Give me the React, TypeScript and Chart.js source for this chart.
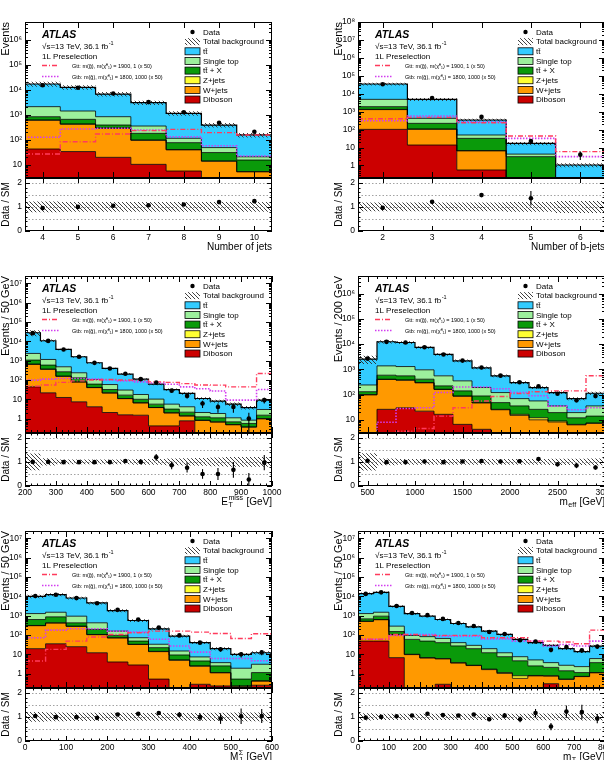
import React, { useEffect, useRef } from 'react';
import { Chart, registerables } from 'chart.js';

Chart.register(...registerables);

const FONT = '"Liberation Sans", Arial, Helvetica, sans-serif';

// ===== Series names / colours (stack order: bottom -> top) =====
const SERIES_LABELS = ['Diboson', 'W+jets', 'Z+jets', 'tt\u0304 + X', 'Single top', 'tt\u0304'];
const SERIES_COLORS = ['#cc0000', '#ff9900', '#ffff33', '#0a9a0a', '#9cf09c', '#33ccff'];
const GTT_LABEL = 'Gtt: m(g\u0303), m(\u03c7\u0303\u2070\u2081) = 1900, 1 (x 50)';
const GTB_LABEL = 'Gtb: m(g\u0303), m(\u03c7\u0303\u2070\u2081) = 1800, 1000 (x 50)';
const GTT_COLOR = '#ff3b5c';
const GTB_COLOR = '#d23cf0';

// ===== (a) Number of jets =====
const jetBins = [4, 5, 6, 7, 8, 9, 10];
const jetDiboson = [43, 34, 20, 10.5, 5.7, 2, 1];
const jetWjets = [560, 385, 270, 85, 34, 12, 4.3];
const jetZjets = [14, 8, 6, 2.5, 1.3, 0.3, 0.1];
const jetTtX = [218, 229, 93, 83, 36, 16.7, 10.2];
const jetSingleTop = [1265, 754, 447, 174, 38, 18, 5.4];
const jetTtbar = [14700, 11000, 5860, 2675, 1025, 340, 135];
const jetData = [15000, 12000, 7000, 3200, 1250, 482, 211];
const jetGtt = [27, 84, 170, 232, 261, 193, 156];
const jetGtb = [126, 270, 290, 245, 133, 58, 22.6];
const jetRatio = [0.95, 1.0, 1.05, 1.07, 1.1, 1.2, 1.24];
const jetRatioErr = [0.01, 0.01, 0.015, 0.02, 0.03, 0.055, 0.085];
const jetSyst = [0.22, 0.2, 0.2, 0.2, 0.2, 0.2, 0.2];

// ===== (b) Number of b-jets =====
const bjetBins = [2, 3, 4, 5, 6];
const bjetDiboson = [103, 13.8, 0.56, 0.01, 0.001];
const bjetWjets = [1200, 90, 6, 0.15, 0.01];
const bjetZjets = [47, 4.2, 0.14, 0.01, 0.001];
const bjetTtX = [550, 115, 25.8, 2.93, 0.12];
const bjetSingleTop = [2960, 202, 17.5, 1.2, 0.03];
const bjetTtbar = [29940, 4435, 292, 12.7, 0.9];
const bjetData = [34000, 5800, 510, 23, 4];
const bjetGtt = [400, 480, 240, 44, 5.9];
const bjetGtb = [310, 570, 260, 32.5, 3.1];
const bjetRatio = [0.96, 1.21, 1.49, 1.36, null];
const bjetRatioErr = [0.01, 0.02, 0.07, 0.3, 0];
const bjetSyst = [0.18, 0.18, 0.18, 0.2, 0.25];

// ===== (c) E_T^miss =====
const metBins = [225, 275, 325, 375, 425, 475, 525, 575, 625, 675, 725, 775, 825, 875, 925, 975];
const metDiboson = [44, 21.6, 12.4, 7.4, 4.1, 2.07, 1.57, 1.5, 0.42, 0.42, 0.77, 0.001, 0.001, 0.001, 0.001, 0.001];
const metWjets = [600, 333, 141, 70.5, 36, 19, 9.2, 5, 3.3, 1.55, 0.6, 0.8, 0.66, 0.48, 0.36, 0.97];
const metZjets = [16, 9.4, 4.6, 2.1, 0.9, 0.5, 0.23, 0.1, 0.04, 0.03, 0.02, 0.03, 0.02, 0.01, 0.01, 0.03];
const metTtX = [406, 224, 107, 49, 20, 10.4, 5.4, 3.4, 1.84, 1.1, 0.76, 0.41, 0.42, 0.19, 0.19, 0.5];
const metSingleTop = [1294, 562, 216, 106, 45, 26, 13.6, 7.7, 4.6, 2.5, 1.95, 0.83, 0.74, 0.42, 0.27, 1.47];
const metTtbar = [25440, 9550, 3319, 1350, 670, 336, 170, 92, 51, 26.4, 15.9, 8.9, 6.2, 4.5, 2.9, 6.0];
const metData = [26500, 10500, 3750, 1580, 770, 390, 210, 110, 73, 28, 15, 6, 4, 4, 1, 9];
const metGtt = [48, 55, 75, 90, 100, 105, 100, 95, 80, 75, 65, 55, 54, 44, 44, 217];
const metGtb = [98, 110, 120, 120, 110, 100, 90, 80, 70, 60, 44, 35, 27, 9, 9, 32];
const metRatio = [1.0, 1.0, 0.99, 0.99, 0.99, 0.99, 1.04, 1.0, 1.19, 0.86, 0.76, 0.5, 0.5, 0.67, 0.27, 0.97];
const metRatioErr = [0.01, 0.01, 0.016, 0.025, 0.036, 0.05, 0.07, 0.095, 0.14, 0.16, 0.2, 0.2, 0.25, 0.33, 0.27, 0.32];
const metSyst = [0.35, 0.15, 0.1, 0.1, 0.1, 0.1, 0.1, 0.12, 0.12, 0.14, 0.15, 0.16, 0.18, 0.2, 0.2, 0.2];

// ===== (d) m_eff =====
const meffBins = [500, 700, 900, 1100, 1300, 1500, 1700, 1900, 2100, 2300, 2500, 2700, 2900];
const meffDiboson = [0.01, 26, 30, 22, 16.5, 6.6, 4.2, 1, 0.5, 0.3, 0.2, 0.1, 0.2];
const meffWjets = [97, 370, 340, 270, 142, 79, 42.5, 24, 14.5, 9.7, 8, 6.2, 7];
const meffZjets = [3, 11, 10, 8, 4.5, 2.4, 1.3, 1, 1.5, 2, 0.8, 0.3, 0.3];
const meffTtX = [30, 179, 172, 107, 58, 52, 40, 22, 19, 14, 10.3, 5.4, 6.5];
const meffSingleTop = [110, 784, 738, 548, 331, 209, 102, 72, 33.5, 30, 16.2, 7.3, 21.5];
const meffTtbar = [2300, 11030, 10310, 6425, 3338, 1831, 958, 432, 231, 134, 84.5, 49.7, 77.5];
const meffData = [2670, 12300, 11500, 7530, 3850, 2220, 1190, 563, 309, 213, 108, 59, 87];
const meffGtt = [2.5, 3, 3.5, 4.5, 14, 30, 56, 84, 110, 130, 140, 140, 560];
const meffGtb = [3, 8, 28, 30, 120, 200, 200, 170, 120, 90, 35, 25, 30];
const meffRatio = [1.05, 0.99, 0.99, 1.02, 0.99, 1.02, 1.04, 1.02, 1.03, 1.12, 0.9, 0.85, 0.77];
const meffRatioErr = [0.02, 0.01, 0.01, 0.012, 0.016, 0.022, 0.03, 0.043, 0.06, 0.08, 0.09, 0.11, 0.09];
const meffSyst = [0.36, 0.14, 0.12, 0.12, 0.12, 0.12, 0.12, 0.12, 0.12, 0.12, 0.13, 0.13, 0.14];

// ===== (e) M_J^Sigma =====
const mjBins = [25, 75, 125, 175, 225, 275, 325, 375, 425, 475, 525, 575];
const mjDiboson = [19.5, 35, 24.7, 12, 4, 2.8, 0.52, 0.01, 0.28, 0.23, 0.01, 0.25];
const mjWjets = [282, 379, 254, 91, 66, 29.3, 13.2, 4.9, 2.15, 0.87, 0.21, 0.16];
const mjZjets = [8.5, 11, 7.3, 3, 2, 0.9, 0.5, 0.2, 0.07, 0.03, 0.01, 0.01];
const mjTtX = [320, 440, 139, 87, 23, 15, 7.8, 4.1, 2, 1.37, 0.29, 0.71];
const mjSingleTop = [650, 635, 512, 232, 63, 24, 11, 5.6, 2.8, 1.2, 1.38, 1.92];
const mjTtbar = [8720, 10700, 7263, 4115, 1672, 488, 175, 72.7, 32.7, 15.8, 8.1, 8.95];
const mjData = [10400, 12100, 8100, 4360, 2010, 633, 241, 95, 40, 18, 10, 12.5];
const mjGtt = [4.5, 18, 48, 78, 106, 130, 158, 158, 140, 120, 66, 115];
const mjGtb = [72, 178, 208, 208, 158, 140, 60, 27, 13, 6, 6, 4.6];
const mjRatio = [1.04, 0.99, 0.99, 0.96, 1.1, 1.13, 1.16, 1.09, 0.99, 0.93, 1.03, 1.04];
const mjRatioErr = [0.01, 0.01, 0.011, 0.015, 0.025, 0.045, 0.075, 0.11, 0.16, 0.22, 0.32, 0.29];
const mjSyst = [0.2, 0.18, 0.17, 0.17, 0.17, 0.16, 0.16, 0.16, 0.16, 0.17, 0.18, 0.18];

// ===== (f) m_T =====
const mtBins = [25, 75, 125, 175, 225, 275, 325, 375, 425, 475, 525, 575, 625, 675, 725, 775];
const mtDiboson = [48, 48, 6.7, 0.01, 0.01, 0.28, 0.01, 0.01, 0.01, 0.01, 0.01, 0.01, 0.3, 0.01, 0.01, 0.01];
const mtWjets = [455, 565, 96, 9.6, 6.4, 5.5, 3.5, 2.6, 1.6, 1.02, 0.56, 0.75, 0.45, 0.49, 0.69, 1.09];
const mtZjets = [14, 17, 3.3, 0.4, 0.3, 0.2, 0.2, 0.1, 0.1, 0.1, 0.2, 0.04, 0.02, 0.02, 0.02, 0.03];
const mtTtX = [165, 307, 44, 49, 41.3, 34, 23.3, 16.8, 10.3, 6.37, 3.83, 1.7, 1.33, 0.88, 0.41, 2.57];
const mtSingleTop = [598, 563, 136, 35, 34, 26, 13, 9.5, 7.5, 4.5, 2.9, 2.6, 1.6, 1.3, 1.17, 2.3];
const mtTtbar = [12420, 14500, 2764, 1186, 855, 564, 353, 235, 138.5, 94, 51.5, 34.9, 25.3, 16.8, 11.3, 20.7];
const mtData = [13300, 16000, 3140, 1360, 1060, 680, 417, 290, 142, 112, 53, 46, 17, 24, 16, 25];
const mtGtt = [60, 60, 106, 106, 95, 95, 95, 95, 72, 72, 72, 48, 48, 43, 35, 178];
const mtGtb = [60, 60, 95, 106, 106, 87, 87, 87, 63, 63, 48, 48, 27, 32, 27, 48];
const mtRatio = [0.97, 1.0, 1.03, 1.06, 1.13, 1.08, 1.06, 1.1, 0.9, 1.06, 0.9, 1.16, 0.6, 1.22, 1.2, 0.93];
const mtRatioErr = [0.01, 0.01, 0.02, 0.03, 0.035, 0.04, 0.05, 0.065, 0.075, 0.1, 0.12, 0.17, 0.15, 0.25, 0.3, 0.19];
const mtSyst = [0.15, 0.13, 0.13, 0.13, 0.13, 0.13, 0.13, 0.13, 0.13, 0.13, 0.13, 0.14, 0.14, 0.14, 0.15, 0.15];

// ===== panels =====
const PANELS: any[] = [
  { col: 0, row: 0, centers: jetBins, width: 1, xMin: 3.5, xMax: 10.5, xMajor: 1, xMinor: 0, yMin: 3, yMax: 5e6,
    comps: [jetDiboson, jetWjets, jetZjets, jetTtX, jetSingleTop, jetTtbar], data: jetData, gtt: jetGtt, gtb: jetGtb,
    ratio: jetRatio, ratioErr: jetRatioErr, syst: jetSyst, yTitle: 'Events', xTitle: [{ t: 'Number of jets' }] },
  { col: 1, row: 0, centers: bjetBins, width: 1, xMin: 1.5, xMax: 6.5, xMajor: 1, xMinor: 0, yMin: 0.2, yMax: 1e8,
    comps: [bjetDiboson, bjetWjets, bjetZjets, bjetTtX, bjetSingleTop, bjetTtbar], data: bjetData, gtt: bjetGtt, gtb: bjetGtb,
    ratio: bjetRatio, ratioErr: bjetRatioErr, syst: bjetSyst, yTitle: 'Events', xTitle: [{ t: 'Number of b-jets' }] },
  { col: 0, row: 1, centers: metBins, width: 50, xMin: 200, xMax: 1000, xMajor: 100, xMinor: 20, yMin: 0.18, yMax: 2.4e7,
    comps: [metDiboson, metWjets, metZjets, metTtX, metSingleTop, metTtbar], data: metData, gtt: metGtt, gtb: metGtb,
    ratio: metRatio, ratioErr: metRatioErr, syst: metSyst, yTitle: 'Events / 50 GeV',
    xTitle: [{ t: 'E' }, { sup: 'miss', sub: 'T' }, { t: ' [GeV]' }] },
  { col: 1, row: 1, centers: meffBins, width: 200, xMin: 400, xMax: 3000, xMajor: 500, xMinor: 100, yMin: 3, yMax: 5e6,
    comps: [meffDiboson, meffWjets, meffZjets, meffTtX, meffSingleTop, meffTtbar], data: meffData, gtt: meffGtt, gtb: meffGtb,
    ratio: meffRatio, ratioErr: meffRatioErr, syst: meffSyst, yTitle: 'Events / 200 GeV',
    xTitle: [{ t: 'm' }, { sub: 'eff' }, { t: ' [GeV]' }] },
  { col: 0, row: 2, centers: mjBins, width: 50, xMin: 0, xMax: 600, xMajor: 100, xMinor: 20, yMin: 0.18, yMax: 2.4e7,
    comps: [mjDiboson, mjWjets, mjZjets, mjTtX, mjSingleTop, mjTtbar], data: mjData, gtt: mjGtt, gtb: mjGtb,
    ratio: mjRatio, ratioErr: mjRatioErr, syst: mjSyst, yTitle: 'Events / 50 GeV',
    xTitle: [{ t: 'M' }, { sup: '\u03a3', sub: 'J' }, { t: ' [GeV]' }] },
  { col: 1, row: 2, centers: mtBins, width: 50, xMin: 0, xMax: 800, xMajor: 100, xMinor: 20, yMin: 0.18, yMax: 2.4e7,
    comps: [mtDiboson, mtWjets, mtZjets, mtTtX, mtSingleTop, mtTtbar], data: mtData, gtt: mtGtt, gtb: mtGtb,
    ratio: mtRatio, ratioErr: mtRatioErr, syst: mtSyst, yTitle: 'Events / 50 GeV',
    xTitle: [{ t: 'm' }, { sub: 'T' }, { t: ' [GeV]' }] },
];

// ===== layout =====
const COLS = [
  { cellX: 0, left: 25, right: 272, padR: 14 },
  { cellX: 300, left: 358, right: 605, padR: 14 },
];
const ROWS = [
  { top: 22, split: 178, bottom: 231 },
  { top: 276, split: 433, bottom: 486 },
  { top: 531, split: 688, bottom: 741 },
];
const YW = 20, PT = 12, PB = 6, RT = 6, XH = 26;

function geom(p: any) {
  const c = COLS[p.col], r = ROWS[p.row];
  const w = c.right + c.padR - c.cellX;
  return {
    mx: c.cellX, my: r.top - PT, mw: w, mh: r.split - r.top + PT + PB,
    rx: c.cellX, ry: r.split - RT, rw: w, rh: r.bottom - r.split + RT + XH,
    padL: c.left - c.cellX - YW, padR: c.padR,
  };
}

// ===== helpers =====
let HATCH: any = '#888';
function makeHatch() {
  const c = document.createElement('canvas');
  c.width = 4; c.height = 4;
  const g = c.getContext('2d')!;
  g.strokeStyle = '#2a2a2a'; g.lineWidth = 0.9;
  g.beginPath();
  g.moveTo(-1, -1); g.lineTo(5, 5);
  g.moveTo(-1, 3); g.lineTo(1, 5);
  g.moveTo(3, -1); g.lineTo(5, 1);
  g.stroke();
  return g.createPattern(c, 'repeat');
}

function cumulate(comps: number[][]) {
  const out: number[][] = [];
  let run = comps[0].map(() => 0);
  comps.forEach((c) => { run = run.map((v, i) => v + c[i]); out.push(run); });
  return out;
}
function steps(centers: number[], width: number, vals: number[]) {
  const pts = centers.map((c, i) => ({ x: c - width / 2, y: vals[i] }));
  pts.push({ x: centers[centers.length - 1] + width / 2, y: vals[vals.length - 1] });
  return pts;
}
function linTicks(min: number, max: number, step: number) {
  const out: number[] = [];
  if (!step) return out;
  const s = Math.ceil(min / step - 1e-9) * step;
  for (let v = s; v <= max + 1e-9; v += step) out.push(+v.toFixed(6));
  return out;
}
function decadeTicks(min: number, max: number) {
  const out: number[] = [];
  for (let e = Math.ceil(Math.log10(min) - 1e-9); e <= Math.floor(Math.log10(max) + 1e-9); e++) out.push(Math.pow(10, e));
  return out;
}
function logMinor(min: number, max: number) {
  const out: number[] = [];
  for (let e = Math.floor(Math.log10(min)); e <= Math.ceil(Math.log10(max)); e++)
    for (let m = 2; m <= 9; m++) { const v = m * Math.pow(10, e); if (v > min && v < max) out.push(v); }
  return out;
}
const SUP = '\u2070\u00b9\u00b2\u00b3\u2074\u2075\u2076\u2077\u2078\u2079';
function powLabel(v: number) {
  const e = Math.round(Math.log10(v));
  if (e === 0) return '1';
  if (e === 1) return '10';
  return '10' + String(e).split('').map((d) => SUP[+d]).join('');
}
const fnt = (size: number, style = '') => `${style} ${size}px ${FONT}`.trim();

function drawRich(ctx: any, parts: any[], x: number, y: number, size: number, align: string) {
  const small = size * 0.72;
  const widthOf = (pt: any) => {
    if (pt.t !== undefined) { ctx.font = fnt(size); return ctx.measureText(pt.t).width; }
    ctx.font = fnt(small);
    return Math.max(pt.sub ? ctx.measureText(pt.sub).width : 0, pt.sup ? ctx.measureText(pt.sup).width : 0) + 1;
  };
  const total = parts.reduce((w, pt) => w + widthOf(pt), 0);
  let cx = align === 'right' ? x - total : x;
  ctx.textAlign = 'left'; ctx.textBaseline = 'alphabetic';
  parts.forEach((pt) => {
    const w = widthOf(pt);
    if (pt.t !== undefined) { ctx.font = fnt(size); ctx.fillText(pt.t, cx, y); }
    else {
      ctx.font = fnt(small);
      if (pt.sup) ctx.fillText(pt.sup, cx + 0.5, y - size * 0.42);
      if (pt.sub) ctx.fillText(pt.sub, cx + 0.5, y + size * 0.28);
    }
    cx += w;
  });
}

function decorPlugin(s: any) {
  return {
    id: 'atlasDecor',
    beforeDatasetsDraw(chart: any) {
      if (!s.refLines) return;
      const { ctx, chartArea: a } = chart; const ys = chart.scales.y;
      ctx.save(); ctx.strokeStyle = '#8a8a8a'; ctx.lineWidth = 0.8; ctx.setLineDash([1.5, 2]);
      s.refLines.forEach((v: number) => {
        const y = Math.round(ys.getPixelForValue(v)) + 0.5;
        ctx.beginPath(); ctx.moveTo(a.left, y); ctx.lineTo(a.right, y); ctx.stroke();
      });
      ctx.restore();
    },
    afterDatasetsDraw(chart: any) {
      const { ctx, chartArea: a } = chart; const xs = chart.scales.x, ys = chart.scales.y;
      ctx.save();
      // error bars
      ctx.save();
      ctx.beginPath(); ctx.rect(a.left, a.top, a.right - a.left, a.bottom - a.top); ctx.clip();
      chart.data.datasets.forEach((ds: any) => {
        if (!ds.errLo) return;
        ctx.strokeStyle = '#000'; ctx.lineWidth = 1.1;
        ds.data.forEach((pt: any, i: number) => {
          if (pt.y == null || !ds.errLo[i]) return;
          const x = xs.getPixelForValue(pt.x);
          const lo = pt.y - ds.errLo[i];
          const y1 = lo > 0 ? ys.getPixelForValue(lo) : a.bottom + 5;
          const y2 = ys.getPixelForValue(pt.y + ds.errHi[i]);
          ctx.beginPath(); ctx.moveTo(x, y1); ctx.lineTo(x, y2); ctx.stroke();
        });
      });
      ctx.restore();
      // frame + inward ticks
      ctx.strokeStyle = '#000'; ctx.lineWidth = 1; ctx.setLineDash([]);
      ctx.strokeRect(a.left + 0.5, a.top + 0.5, a.right - a.left - 1, a.bottom - a.top - 1);
      ctx.beginPath();
      const vx = (v: number, L: number) => {
        const x = Math.round(xs.getPixelForValue(v)) + 0.5;
        ctx.moveTo(x, a.bottom); ctx.lineTo(x, a.bottom - L); ctx.moveTo(x, a.top); ctx.lineTo(x, a.top + L);
      };
      const vy = (v: number, L: number) => {
        const y = Math.round(ys.getPixelForValue(v)) + 0.5;
        ctx.moveTo(a.left, y); ctx.lineTo(a.left + L, y); ctx.moveTo(a.right, y); ctx.lineTo(a.right - L, y);
      };
      s.xMaj.forEach((v: number) => vx(v, s.majL));
      s.xMin.forEach((v: number) => vx(v, s.minL));
      s.yMaj.forEach((v: number) => vy(v, s.majL));
      s.yMin.forEach((v: number) => vy(v, s.minL));
      ctx.stroke();
      ctx.fillStyle = '#000';
      // y title
      ctx.save();
      ctx.translate(a.left - 16.5, s.yTitleCenter ? (a.top + a.bottom) / 2 : a.top);
      ctx.rotate(-Math.PI / 2);
      ctx.font = fnt(s.yTitleSize);
      ctx.textAlign = s.yTitleCenter ? 'center' : 'right'; ctx.textBaseline = 'alphabetic';
      ctx.fillText(s.yTitle, 0, 0);
      ctx.restore();
      // x title
      if (s.xTitle) drawRich(ctx, s.xTitle, a.right, a.bottom + 18.5, 10, 'right');
      if (s.header) {
        const L = a.left, T = a.top;
        ctx.textAlign = 'left'; ctx.textBaseline = 'alphabetic';
        ctx.font = fnt(10.5, 'italic bold'); ctx.fillText('ATLAS', L + 17, T + 15.5);
        ctx.font = fnt(8); ctx.fillText('\u221as=13 TeV, 36.1 fb', L + 17, T + 26.5);
        const w = ctx.measureText('\u221as=13 TeV, 36.1 fb').width;
        ctx.font = fnt(5.5); ctx.fillText('-1', L + 17 + w + 0.5, T + 23);
        ctx.font = fnt(8); ctx.fillText('1L Preselection', L + 17, T + 37);
        ctx.lineWidth = 1.3;
        ctx.strokeStyle = GTT_COLOR; ctx.setLineDash([5, 2, 1, 2]);
        ctx.beginPath(); ctx.moveTo(L + 17, T + 43.5); ctx.lineTo(L + 34, T + 43.5); ctx.stroke();
        ctx.strokeStyle = GTB_COLOR; ctx.setLineDash([1.5, 1.5]);
        ctx.beginPath(); ctx.moveTo(L + 17, T + 54.5); ctx.lineTo(L + 34, T + 54.5); ctx.stroke();
        ctx.setLineDash([]);
        ctx.font = fnt(5.5);
        ctx.fillText(GTT_LABEL, L + 47, T + 45.5);
        ctx.fillText(GTB_LABEL, L + 47, T + 56.5);
        // legend
        const R = a.right;
        const rowY = (k: number) => T + 10 + 9.65 * k;
        const labels = ['Data', 'Total background'];
        for (let k = SERIES_LABELS.length - 1; k >= 0; k--) labels.push(SERIES_LABELS[k]);
        ctx.beginPath(); ctx.arc(R - 79.5, rowY(0), 2.2, 0, Math.PI * 2); ctx.fill();
        ctx.fillStyle = HATCH; ctx.fillRect(R - 87, rowY(1) - 3.5, 15, 7);
        ctx.lineWidth = 0.8; ctx.strokeStyle = '#000';
        for (let k = 0; k < SERIES_COLORS.length; k++) {
          const idx = SERIES_COLORS.length - 1 - k;
          const y = rowY(2 + k);
          ctx.fillStyle = SERIES_COLORS[idx]; ctx.fillRect(R - 87, y - 3.5, 15, 7);
          ctx.strokeRect(R - 87, y - 3.5, 15, 7);
        }
        ctx.fillStyle = '#000'; ctx.font = fnt(8); ctx.textBaseline = 'middle';
        labels.forEach((t, k) => ctx.fillText(t, R - 69, rowY(k) + 0.5));
      }
      ctx.restore();
    },
  };
}

const tickFont = { family: FONT, size: 8.5 };

function mainConfig(p: any, g: any) {
  const cum = cumulate(p.comps);
  const total = cum[cum.length - 1];
  const FLOOR = 1e-4;
  const ds: any[] = [];
  cum.forEach((vals, k) => ds.push({
    type: 'line', label: SERIES_LABELS[k],
    data: steps(p.centers, p.width, vals.map((v) => Math.max(v, FLOOR))),
    stepped: true, borderColor: '#000', borderWidth: k === cum.length - 1 ? 1.2 : 0.8,
    backgroundColor: SERIES_COLORS[k], fill: k === 0 ? 'start' : '-1', pointRadius: 0, order: 20 - k,
  }));
  ds.push({ type: 'line', label: 'bandLo', data: steps(p.centers, p.width, total.map((t, i) => t * (1 - p.syst[i]))),
    stepped: true, borderWidth: 0, pointRadius: 0, fill: false, order: 5 });
  ds.push({ type: 'line', label: 'Total background', data: steps(p.centers, p.width, total.map((t, i) => t * (1 + p.syst[i]))),
    stepped: true, borderWidth: 0, pointRadius: 0, backgroundColor: HATCH, fill: '-1', order: 5 });
  ds.push({ type: 'line', label: 'Gtt', data: steps(p.centers, p.width, p.gtt), stepped: true, borderColor: GTT_COLOR,
    borderWidth: 1.4, borderDash: [5, 2, 1, 2], pointRadius: 0, fill: false, order: 3 });
  ds.push({ type: 'line', label: 'Gtb', data: steps(p.centers, p.width, p.gtb), stepped: true, borderColor: GTB_COLOR,
    borderWidth: 1.6, borderDash: [1.5, 1.5], pointRadius: 0, fill: false, order: 3 });
  ds.push({ type: 'line', label: 'Data', data: p.centers.map((c: number, i: number) => ({ x: c, y: p.data[i] })),
    showLine: false, pointRadius: 2.3, pointBackgroundColor: '#000', pointBorderColor: '#000', pointBorderWidth: 0,
    fill: false, order: 1,
    errLo: p.data.map((v: number) => Math.sqrt(v)), errHi: p.data.map((v: number) => Math.sqrt(v)) });

  const settings = {
    xMaj: linTicks(p.xMin, p.xMax, p.xMajor),
    xMin: linTicks(p.xMin, p.xMax, p.xMinor).filter((v) => Math.abs(v / p.xMajor - Math.round(v / p.xMajor)) > 1e-6),
    yMaj: decadeTicks(p.yMin, p.yMax), yMin: logMinor(p.yMin, p.yMax), majL: 6, minL: 3,
    yTitle: p.yTitle, yTitleSize: 11, yTitleCenter: false, header: true,
  };
  return {
    type: 'line',
    data: { datasets: ds },
    plugins: [decorPlugin(settings)],
    options: {
      responsive: false, maintainAspectRatio: false, animation: false, devicePixelRatio: 1, events: [],
      layout: { padding: { left: g.padL, right: g.padR, top: PT, bottom: PB } },
      plugins: { legend: { display: false }, tooltip: { enabled: false },
        filler: { drawTime: 'beforeDatasetsDraw', propagate: false } },
      scales: {
        x: { type: 'linear', min: p.xMin, max: p.xMax, display: false },
        y: {
          type: 'logarithmic', min: p.yMin, max: p.yMax,
          grid: { display: false, drawTicks: false }, border: { display: false },
          ticks: { font: tickFont, color: '#000', padding: 3, autoSkip: false, maxRotation: 0,
            callback: (v: number) => powLabel(v) },
          afterBuildTicks: (sc: any) => { sc.ticks = decadeTicks(p.yMin, p.yMax).map((v) => ({ value: v })); },
          afterFit: (sc: any) => { sc.width = YW; sc.paddingTop = 0; sc.paddingBottom = 0; },
        },
      },
    },
  };
}

function ratioConfig(p: any, g: any) {
  const ds: any[] = [
    { type: 'line', label: 'lo', data: steps(p.centers, p.width, p.syst.map((u: number) => 1 - u)),
      stepped: true, borderWidth: 0, pointRadius: 0, fill: false, order: 5 },
    { type: 'line', label: 'hi', data: steps(p.centers, p.width, p.syst.map((u: number) => 1 + u)),
      stepped: true, borderWidth: 0, pointRadius: 0, backgroundColor: HATCH, fill: '-1', order: 5 },
    { type: 'line', label: 'Data / SM', data: p.centers.map((c: number, i: number) => ({ x: c, y: p.ratio[i] })),
      showLine: false, pointRadius: 2.3, pointBackgroundColor: '#000', pointBorderColor: '#000', pointBorderWidth: 0,
      fill: false, order: 1, errLo: p.ratioErr, errHi: p.ratioErr },
  ];
  const settings = {
    xMaj: linTicks(p.xMin, p.xMax, p.xMajor),
    xMin: linTicks(p.xMin, p.xMax, p.xMinor).filter((v) => Math.abs(v / p.xMajor - Math.round(v / p.xMajor)) > 1e-6),
    yMaj: [0, 1, 2], yMin: [0.2, 0.4, 0.6, 0.8, 1.2, 1.4, 1.6, 1.8, 2.2], majL: 5, minL: 2.5,
    refLines: [0.5, 1, 1.5, 2], yTitle: 'Data / SM', yTitleSize: 10, yTitleCenter: true, xTitle: p.xTitle,
  };
  return {
    type: 'line',
    data: { datasets: ds },
    plugins: [decorPlugin(settings)],
    options: {
      responsive: false, maintainAspectRatio: false, animation: false, devicePixelRatio: 1, events: [],
      layout: { padding: { left: g.padL, right: g.padR, top: RT, bottom: 0 } },
      plugins: { legend: { display: false }, tooltip: { enabled: false },
        filler: { drawTime: 'beforeDatasetsDraw', propagate: false } },
      scales: {
        x: {
          type: 'linear', min: p.xMin, max: p.xMax,
          grid: { display: false, drawTicks: false }, border: { display: false },
          ticks: { font: tickFont, color: '#000', padding: 2, autoSkip: false, maxRotation: 0, minRotation: 0,
            callback: (v: number) => String(v) },
          afterBuildTicks: (sc: any) => { sc.ticks = linTicks(p.xMin, p.xMax, p.xMajor).map((v) => ({ value: v })); },
          afterFit: (sc: any) => { sc.height = XH; sc.paddingLeft = 0; sc.paddingRight = 0; },
        },
        y: {
          type: 'linear', min: 0, max: 2.2,
          grid: { display: false, drawTicks: false }, border: { display: false },
          ticks: { font: tickFont, color: '#000', padding: 3, autoSkip: false, callback: (v: number) => String(v) },
          afterBuildTicks: (sc: any) => { sc.ticks = [0, 1, 2].map((v) => ({ value: v })); },
          afterFit: (sc: any) => { sc.width = YW; sc.paddingTop = 0; sc.paddingBottom = 0; },
        },
      },
    },
  };
}

export default function App() {
  const refs = useRef<(HTMLCanvasElement | null)[]>([]);
  useEffect(() => {
    HATCH = makeHatch() || '#888';
    const charts: any[] = [];
    PANELS.forEach((p, i) => {
      const g = geom(p);
      const m = refs.current[2 * i], r = refs.current[2 * i + 1];
      if (m) charts.push(new Chart(m, mainConfig(p, g) as any));
      if (r) charts.push(new Chart(r, ratioConfig(p, g) as any));
    });
    return () => charts.forEach((c) => c.destroy());
  }, []);
  return (
    <div style={{ position: 'absolute', left: 0, top: 0, width: 604, height: 760, overflow: 'hidden', background: '#fff' }}>
      {PANELS.map((p, i) => {
        const g = geom(p);
        return (
          <React.Fragment key={i}>
            <canvas ref={(el) => { refs.current[2 * i] = el; }} width={g.mw} height={g.mh}
              style={{ position: 'absolute', left: g.mx, top: g.my, width: g.mw, height: g.mh }} />
            <canvas ref={(el) => { refs.current[2 * i + 1] = el; }} width={g.rw} height={g.rh}
              style={{ position: 'absolute', left: g.rx, top: g.ry, width: g.rw, height: g.rh }} />
          </React.Fragment>
        );
      })}
    </div>
  );
}
